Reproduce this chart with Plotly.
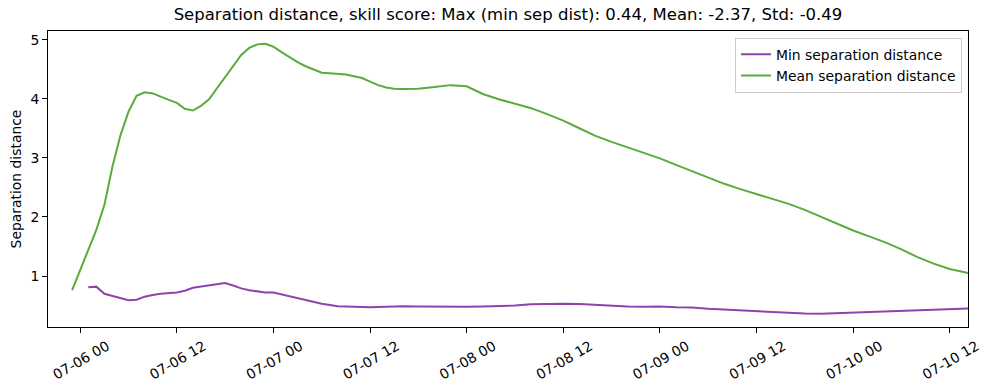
import datetime as dt
import plotly.graph_objects as go

base = dt.datetime(2021, 7, 6, 0, 0)

# hours relative to 07-06 00:00
mean_hours = [-1, 0, 1, 2, 3, 4, 5, 6, 7, 8, 9, 10, 11, 12, 13, 14, 15, 16, 17, 18, 19, 20,
              21, 22, 23, 24, 25, 26, 27, 28, 29, 30, 31, 32, 33, 34, 35, 36, 37, 38, 39, 40,
              42, 44, 46, 48, 49, 50, 52, 54, 56, 58, 60, 62, 64, 66, 68, 70, 72, 74, 76, 78,
              80, 82, 84, 86, 88, 90, 92, 94, 96, 98, 100, 102, 104, 106, 108, 110, 112]
mean_vals = [0.76, 1.11, 1.45, 1.78, 2.20, 2.85, 3.38, 3.78, 4.05, 4.11, 4.09, 4.03, 3.98, 3.93,
             3.83, 3.80, 3.88, 3.99, 4.18, 4.38, 4.57, 4.74, 4.86, 4.92, 4.93, 4.88, 4.79, 4.70,
             4.62, 4.55, 4.49, 4.44, 4.43, 4.42, 4.41, 4.38, 4.35, 4.29, 4.23, 4.19, 4.17, 4.165,
             4.17, 4.20, 4.23, 4.21, 4.15, 4.08, 3.99, 3.91, 3.84, 3.74, 3.63, 3.50, 3.37, 3.27,
             3.18, 3.09, 2.99, 2.88, 2.77, 2.66, 2.56, 2.47, 2.39, 2.31, 2.22, 2.12, 2.00, 1.88,
             1.77, 1.67, 1.57, 1.45, 1.32, 1.21, 1.12, 1.06, 1.00]

min_hours = [1, 2, 3, 4, 5, 6, 7, 8, 9, 10, 12, 13, 14, 15, 16, 17, 18, 19, 20, 21, 22, 23, 24,
             26, 28, 30, 32, 34, 36, 38, 40, 42, 44, 46, 48, 50, 52, 54, 56, 58, 60, 62, 64, 66,
             68, 70, 72, 74, 76, 78, 80, 82, 84, 86, 88, 90, 92, 94, 96, 98, 100, 102, 104, 106,
             108, 110, 112]
min_vals = [0.81, 0.82, 0.70, 0.66, 0.63, 0.59, 0.60, 0.65, 0.68, 0.70, 0.72, 0.75, 0.80, 0.82,
            0.85, 0.87, 0.88, 0.84, 0.79, 0.76, 0.74, 0.72, 0.72, 0.66, 0.59, 0.53, 0.49, 0.475,
            0.47, 0.48, 0.49, 0.485, 0.48, 0.475, 0.48, 0.485, 0.49, 0.50, 0.52, 0.53, 0.53,
            0.525, 0.51, 0.495, 0.485, 0.48, 0.485, 0.47, 0.465, 0.445, 0.43, 0.415, 0.40, 0.385,
            0.37, 0.365, 0.36, 0.37, 0.375, 0.385, 0.40, 0.41, 0.42, 0.43, 0.44, 0.45, 0.46]

tick_hours = [0, 12, 24, 36, 48, 60, 72, 84, 96, 108]
x_range_hours = [-4.0, 110.27]
y_range = [0.137, 5.146]

title_text = "Separation distance, skill score: Max (min sep dist): 0.44, Mean: -2.37, Std: -0.49"

def to_dt(h):
    return base + dt.timedelta(hours=h)

fig = go.Figure()
fig.add_trace(go.Scatter(x=[to_dt(h) for h in min_hours], y=min_vals, mode="lines",
                         name="Min separation distance",
                         line=dict(color="#8e44ad", width=2)))
fig.add_trace(go.Scatter(x=[to_dt(h) for h in mean_hours], y=mean_vals, mode="lines",
                         name="Mean separation distance",
                         line=dict(color="#5aab3c", width=2)))

font_family = "DejaVu Sans"
fig.update_layout(
    width=989, height=390,
    margin=dict(l=48, r=21, t=31, b=63, autoexpand=False),
    paper_bgcolor="white", plot_bgcolor="white",
    font=dict(family=font_family, size=13.9, color="black"),
    title=dict(text=title_text, x=0.5, xref="paper", xanchor="center",
               y=1 - 14.5 / 390, yanchor="middle",
               font=dict(size=16.5, family=font_family, color="black")),
    legend=dict(x=0.9935, y=0.977, xanchor="right", yanchor="top",
                bgcolor="rgba(255,255,255,0.8)", bordercolor="#cccccc", borderwidth=1,
                font=dict(size=13.9, family=font_family), itemwidth=30,
                tracegroupgap=0),
    showlegend=True,
)
fig.update_xaxes(
    automargin=False,
    range=[to_dt(x_range_hours[0]), to_dt(x_range_hours[1])],
    tickvals=[to_dt(h) for h in tick_hours], tickformat="%m-%d %H",
    tickangle=-30, ticklabelshift=27, ticklabelstandoff=0,
    ticks="outside", ticklen=5, tickwidth=1, tickcolor="black",
    showline=True, linecolor="black", linewidth=1, mirror=True,
    showgrid=False, zeroline=False,
    tickfont=dict(size=13.9, family=font_family, color="black"),
)
fig.update_yaxes(
    automargin=False,
    range=y_range, tickvals=[1, 2, 3, 4, 5],
    ticks="outside", ticklen=5, tickwidth=1, tickcolor="black",
    showline=True, linecolor="black", linewidth=1, mirror=True,
    showgrid=False, zeroline=False,
    title=dict(text="Separation distance", font=dict(size=13.9, family=font_family), standoff=5),
    tickfont=dict(size=13.9, family=font_family, color="black"),
)
fig.write_html("out.html", config={"displayModeBar": False},
               post_script="document.body.style.margin='0';")
